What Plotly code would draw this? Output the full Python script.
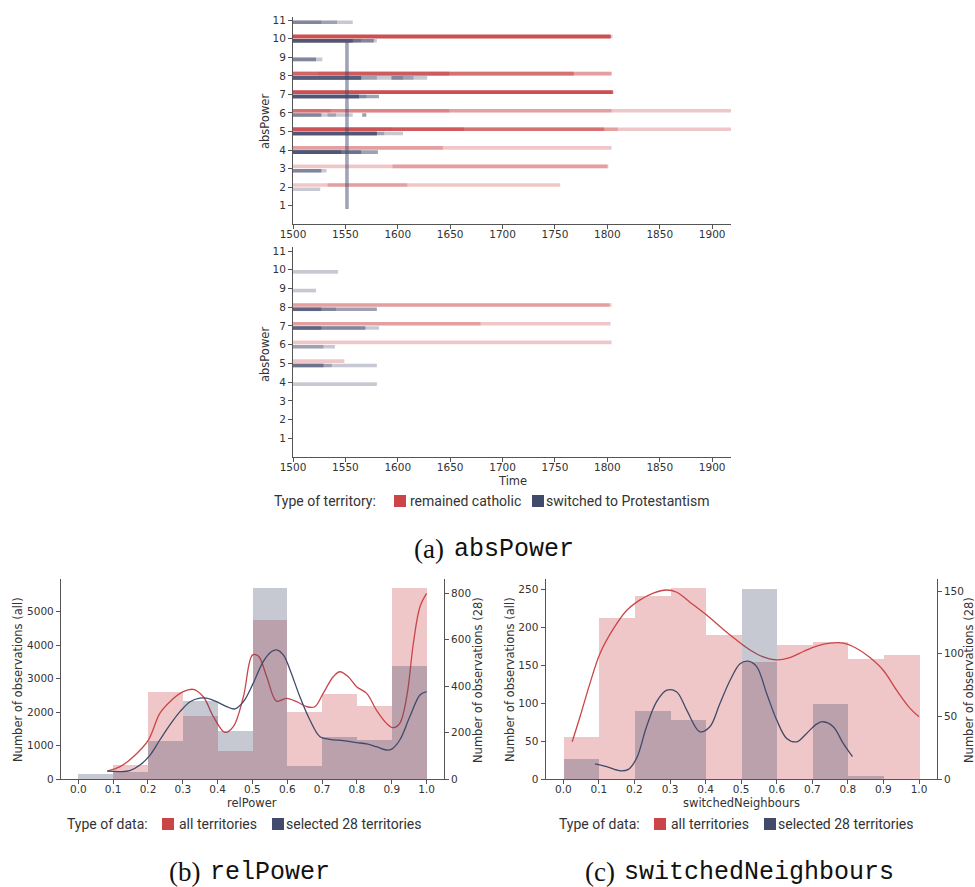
import plotly.graph_objects as go

W, H = 975, 887
RED = (203, 68, 72)
BLUE = (65, 74, 107)

# ---------------- data ----------------
# (a) absPower: (absPower level, start year, end year) of each territory's time line
top_catholic = [
    (10, 1500, 1803), (10, 1500, 1803), (10, 1500, 1803), (10, 1500, 1803),
    (10, 1500, 1803), (10, 1500, 1803), (10, 1500, 1803), (10, 1500, 1805),
    (8, 1500, 1649), (8, 1524, 1649), (8, 1500, 1768), (8, 1500, 1768),
    (8, 1500, 1804), (8, 1500, 1804),
    (7, 1500, 1805), (7, 1500, 1805), (7, 1500, 1805), (7, 1500, 1805),
    (7, 1500, 1805), (7, 1500, 1805), (7, 1500, 1805), (7, 1500, 1806),
    (6, 1500, 1536), (6, 1500, 1649), (6, 1500, 1804), (6, 1500, 1920),
    (5, 1500, 1595), (5, 1500, 1663), (5, 1500, 1663), (5, 1500, 1797),
    (5, 1500, 1797), (5, 1500, 1810), (5, 1500, 1920),
    (4, 1500, 1643), (4, 1500, 1804),
    (3, 1500, 1801), (3, 1595, 1800),
    (2, 1500, 1609), (2, 1533, 1755),
]
top_protestant = [
    (11, 1500, 1527), (11, 1500, 1542), (11, 1500, 1557),
    (10, 1500, 1557), (10, 1500, 1557), (10, 1500, 1557), (10, 1500, 1565),
    (10, 1500, 1577), (10, 1500, 1577), (10, 1500, 1580),
    (9, 1500, 1522), (9, 1500, 1522), (9, 1500, 1528),
    (8, 1500, 1565), (8, 1500, 1565), (8, 1500, 1565), (8, 1500, 1565),
    (8, 1500, 1580), (8, 1500, 1628), (8, 1594, 1615), (8, 1594, 1605),
    (7, 1500, 1563), (7, 1500, 1563), (7, 1500, 1563), (7, 1500, 1563),
    (7, 1500, 1570), (7, 1500, 1582), (7, 1500, 1582),
    (6, 1500, 1527), (6, 1500, 1527), (6, 1500, 1557), (6, 1533, 1541),
    (6, 1566, 1570), (6, 1566, 1570),
    (5, 1500, 1580), (5, 1500, 1580), (5, 1500, 1580), (5, 1500, 1580),
    (5, 1500, 1580), (5, 1500, 1587), (5, 1500, 1605),
    (4, 1500, 1546), (4, 1500, 1546), (4, 1500, 1546), (4, 1500, 1565),
    (4, 1500, 1565), (4, 1500, 1581), (4, 1500, 1581),
    (3, 1500, 1527), (3, 1500, 1527), (3, 1500, 1532),
    (2, 1500, 1526),
]
# vertical track: (year, from level, to level)
top_vertical = [(1551.5, 0.82, 9.83)]

bottom_catholic = [
    (8, 1500, 1802), (8, 1500, 1804),
    (7, 1500, 1679), (7, 1500, 1803),
    (6, 1500, 1804),
    (5, 1500, 1549),
]
bottom_protestant = [
    (10, 1500, 1543),
    (9, 1500, 1522),
    (8, 1500, 1527), (8, 1500, 1527), (8, 1500, 1541), (8, 1500, 1580), (8, 1500, 1580),
    (7, 1500, 1527), (7, 1500, 1527), (7, 1500, 1569), (7, 1500, 1569), (7, 1500, 1582),
    (6, 1500, 1529), (6, 1500, 1540),
    (5, 1500, 1529), (5, 1500, 1529), (5, 1500, 1537), (5, 1500, 1580),
    (4, 1500, 1580),
]
abs_levels = list(range(1, 12))
time_ticks = list(range(1500, 1901, 50))

# (b) relPower / (c) switchedNeighbours histograms (bin centres)
bin_centres = [0.05, 0.15, 0.25, 0.35, 0.45, 0.55, 0.65, 0.75, 0.85, 0.95]
relpower_all = [0, 400, 2600, 1880, 830, 4750, 1990, 2540, 2180, 5690]
relpower_28 = [20, 27, 162, 336, 207, 820, 56, 181, 165, 487]
switched_all = [56, 212, 241, 251, 190, 154, 177, 181, 158, 164]
switched_28 = [16, 0, 54, 47, 0, 152, 0, 60, 2, 0]

# density curves (scaled to counts)
relpower_kde_all_x = [0.083, 0.12, 0.158, 0.201, 0.234, 0.263, 0.301, 0.330, 0.359, 0.388,
                      0.421, 0.445, 0.474, 0.500, 0.517, 0.541, 0.569, 0.598, 0.627, 0.656,
                      0.679, 0.703, 0.732, 0.751, 0.775, 0.799, 0.828, 0.856, 0.885, 0.904,
                      0.923, 0.943, 0.962, 0.981, 1.0]
relpower_kde_all_y = [239, 369, 667, 1165, 1962, 2311, 2610, 2680, 2460, 1862,
                      1394, 1564, 2460, 3705, 3675, 3058, 2330, 2410, 2311, 2161,
                      2161, 2560, 3058, 3207, 3058, 2759, 2560, 2061, 1663, 1534,
                      1663, 2460, 4054, 5149, 5548]
relpower_kde_28_x = [0.083, 0.12, 0.148, 0.177, 0.206, 0.234, 0.263, 0.292, 0.321, 0.349,
                     0.368, 0.397, 0.426, 0.450, 0.474, 0.502, 0.531, 0.555, 0.569, 0.589,
                     0.608, 0.636, 0.665, 0.694, 0.722, 0.761, 0.799, 0.828, 0.856, 0.885,
                     0.900, 0.923, 0.952, 0.981, 1.0]
relpower_kde_28_y = [34, 32, 36, 60, 103, 168, 233, 290, 333, 348,
                     348, 333, 312, 302, 333, 412, 506, 549, 556, 534,
                     470, 355, 254, 182, 171, 165, 157, 151, 139, 125,
                     129, 168, 269, 362, 376]
switched_kde_all_x = [0.025, 0.047, 0.075, 0.103, 0.141, 0.178, 0.216, 0.253, 0.291, 0.319,
                      0.356, 0.403, 0.450, 0.487, 0.525, 0.562, 0.600, 0.637, 0.675, 0.712,
                      0.750, 0.787, 0.825, 0.862, 0.900, 0.937, 0.975, 1.0]
switched_kde_all_y = [49, 82, 126, 165, 198, 222, 236, 245, 249, 246,
                      233, 216, 197, 183, 170, 161, 157, 160, 168, 175,
                      179, 179, 172, 160, 143, 117, 93, 82]
switched_kde_28_x = [0.089, 0.122, 0.159, 0.183, 0.206, 0.234, 0.262, 0.291, 0.319, 0.347,
                     0.384, 0.412, 0.440, 0.469, 0.497, 0.520, 0.544, 0.572, 0.600, 0.628,
                     0.656, 0.684, 0.712, 0.731, 0.759, 0.787, 0.813]
switched_kde_28_y = [12, 9.8, 6.6, 7.7, 16.5, 41.7, 61.6, 70.9, 69.5, 55,
                     37.7, 41.7, 60, 78.8, 92, 94, 89.5, 68, 47, 32.4,
                     29.7, 36.4, 43.8, 45.7, 41.7, 28.4, 17.8]

frac_ticks = [round(i * 0.1, 1) for i in range(11)]

# ---------------- helpers ----------------
def fx(p):
    return p / W


def fy(p):
    return 1 - p / H


def rgba(c, a):
    return f"rgba({c[0]},{c[1]},{c[2]},{a})"


TXT = "#333333"
AX = "#555555"
TICKFONT = dict(family="DejaVu Sans", size=10.5, color=TXT)

fig = go.Figure()


def add_segments(rows, col, off, xa, ya):
    for lv, s, e in rows:
        fig.add_trace(go.Scatter(
            x=[s, e], y=[lv + off, lv + off], mode="lines",
            line=dict(color=rgba(col, 0.3), width=3.6),
            xaxis=xa, yaxis=ya, hoverinfo="skip", showlegend=False))


add_segments(top_catholic, RED, 0.12, "x", "y")
add_segments(top_protestant, BLUE, -0.11, "x", "y")
for yr, y0, y1 in top_vertical:
    fig.add_trace(go.Scatter(
        x=[yr, yr], y=[y0, y1], mode="lines",
        line=dict(color=rgba(BLUE, 0.5), width=3.6),
        xaxis="x", yaxis="y", hoverinfo="skip", showlegend=False))
add_segments(bottom_catholic, RED, 0.12, "x2", "y2")
add_segments(bottom_protestant, BLUE, -0.11, "x2", "y2")

# (b)
fig.add_trace(go.Bar(x=bin_centres, y=relpower_all, width=0.1,
                     marker=dict(color=rgba(RED, 0.3), line=dict(width=0)),
                     xaxis="x3", yaxis="y3", showlegend=False))
fig.add_trace(go.Scatter(x=relpower_kde_all_x, y=relpower_kde_all_y, mode="lines",
                         line=dict(color=rgba(RED, 1), width=1.3, shape="spline", smoothing=1.0),
                         xaxis="x3", yaxis="y3", showlegend=False))
fig.add_trace(go.Bar(x=bin_centres, y=relpower_28, width=0.1,
                     marker=dict(color=rgba(BLUE, 0.3), line=dict(width=0)),
                     xaxis="x3", yaxis="y4", showlegend=False))
fig.add_trace(go.Scatter(x=relpower_kde_28_x, y=relpower_kde_28_y, mode="lines",
                         line=dict(color=rgba(BLUE, 1), width=1.3, shape="spline", smoothing=1.0),
                         xaxis="x3", yaxis="y4", showlegend=False))
# (c)
fig.add_trace(go.Bar(x=bin_centres, y=switched_all, width=0.1,
                     marker=dict(color=rgba(RED, 0.3), line=dict(width=0)),
                     xaxis="x4", yaxis="y5", showlegend=False))
fig.add_trace(go.Scatter(x=switched_kde_all_x, y=switched_kde_all_y, mode="lines",
                         line=dict(color=rgba(RED, 1), width=1.3, shape="spline", smoothing=1.0),
                         xaxis="x4", yaxis="y5", showlegend=False))
fig.add_trace(go.Bar(x=bin_centres, y=switched_28, width=0.1,
                     marker=dict(color=rgba(BLUE, 0.3), line=dict(width=0)),
                     xaxis="x4", yaxis="y6", showlegend=False))
fig.add_trace(go.Scatter(x=switched_kde_28_x, y=switched_kde_28_y, mode="lines",
                         line=dict(color=rgba(BLUE, 1), width=1.3, shape="spline", smoothing=1.0),
                         xaxis="x4", yaxis="y6", showlegend=False))

common = dict(showline=True, linecolor=AX, linewidth=1, ticks="outside", ticklen=4,
              tickcolor=AX, tickwidth=1, showgrid=False, zeroline=False, tickfont=TICKFONT,
              automargin=False)
xcommon = dict(common, ticklabelstandoff=-4)

fig.update_layout(
    width=W, height=H, margin=dict(l=0, r=0, t=0, b=0, pad=0, autoexpand=False),
    paper_bgcolor="white", plot_bgcolor="white", showlegend=False,
    barmode="overlay", bargap=0,
    xaxis=dict(domain=[fx(293), fx(731)], range=[1500, 1918], anchor="y",
               tickvals=time_ticks, **xcommon),
    yaxis=dict(domain=[fy(224.3), fy(16.5)], range=[0, 11.2], anchor="x",
               tickvals=abs_levels, **common),
    xaxis2=dict(domain=[fx(293), fx(731)], range=[1500, 1918], anchor="y2",
                tickvals=time_ticks, **xcommon),
    yaxis2=dict(domain=[fy(457), fy(247.3)], range=[0, 11.2], anchor="x2",
                tickvals=abs_levels, **common),
    xaxis3=dict(domain=[fx(60.9), fx(444)], range=[-0.05, 1.05], anchor="y3",
                tickvals=frac_ticks, ticktext=[f"{v:.1f}" for v in frac_ticks], **xcommon),
    yaxis3=dict(domain=[fy(779), fy(579.3)], range=[0, 5971], anchor="x3",
                tickvals=[0, 1000, 2000, 3000, 4000, 5000], **common),
    yaxis4=dict(overlaying="y3", side="right", anchor="x3", range=[0, 860.4],
                tickvals=[0, 200, 400, 600, 800], **common),
    xaxis4=dict(domain=[fx(545.5), fx(936.8)], range=[-0.05, 1.05], anchor="y5",
                tickvals=frac_ticks, ticktext=[f"{v:.1f}" for v in frac_ticks], **xcommon),
    yaxis5=dict(domain=[fy(779), fy(579)], range=[0, 263.5], anchor="x4",
                tickvals=[0, 50, 100, 150, 200, 250], **common),
    yaxis6=dict(overlaying="y5", side="right", anchor="x4", range=[0, 159.6],
                tickvals=[0, 50, 100, 150], **common),
)

ann = []
shapes = []
TITLEFONT = dict(family="DejaVu Sans", size=11.5, color=TXT)


def text(x, y, s, font, xanchor="center", yanchor="middle", angle=0):
    ann.append(dict(x=fx(x), y=fy(y), xref="paper", yref="paper", text=s, showarrow=False,
                    xanchor=xanchor, yanchor=yanchor, textangle=angle, font=font))


# axis titles
text(265, 122, "absPower", TITLEFONT, angle=-90)
text(265, 355, "absPower", TITLEFONT, angle=-90)
text(512, 481, "Time", TITLEFONT)
text(18, 680, "Number of observations (all)", TITLEFONT, angle=-90)
text(478, 680, "Number of observations (28)", TITLEFONT, angle=-90)
text(252, 803, "relPower", TITLEFONT)
text(510, 680, "Number of observations (all)", TITLEFONT, angle=-90)
text(969, 680, "Number of observations (28)", TITLEFONT, angle=-90)
text(741, 803, "switchedNeighbours", TITLEFONT)

# legends
LEGFONT = dict(family="Roboto", size=14, color=TXT)


def legend(y, title_x, title, items):
    text(title_x, y, title, LEGFONT, xanchor="left")
    for sq_x, col, lx, label in items:
        shapes.append(dict(type="rect", xref="paper", yref="paper",
                           x0=fx(sq_x), x1=fx(sq_x + 12), y0=fy(y + 6), y1=fy(y - 6),
                           fillcolor=rgba(col, 1), line=dict(width=0)))
        text(lx, y, label, LEGFONT, xanchor="left")


legend(501, 272, "Type of territory:",
       [(394, RED, 408, "remained catholic"), (532, BLUE, 544, "switched to Protestantism")])
legend(824, 65, "Type of data:",
       [(162, RED, 177, "all territories"), (272, BLUE, 284, "selected 28 territories")])
legend(824, 557, "Type of data:",
       [(654, RED, 669, "all territories"), (764, BLUE, 776, "selected 28 territories")])

# captions
SERIF = dict(family="Liberation Serif", size=27, color="#111111")
MONO = dict(family="Liberation Mono", size=25, color="#111111")
text(446, 549, "(a)", SERIF, xanchor="right")
text(452, 549, "absPower", MONO, xanchor="left")
text(202, 872, "(b)", SERIF, xanchor="right")
text(208, 872, "relPower", MONO, xanchor="left")
text(617, 872, "(c)", SERIF, xanchor="right")
text(622, 872, "switchedNeighbours", MONO, xanchor="left")

fig.update_layout(annotations=ann, shapes=shapes)
fig.write_html("out.html")
